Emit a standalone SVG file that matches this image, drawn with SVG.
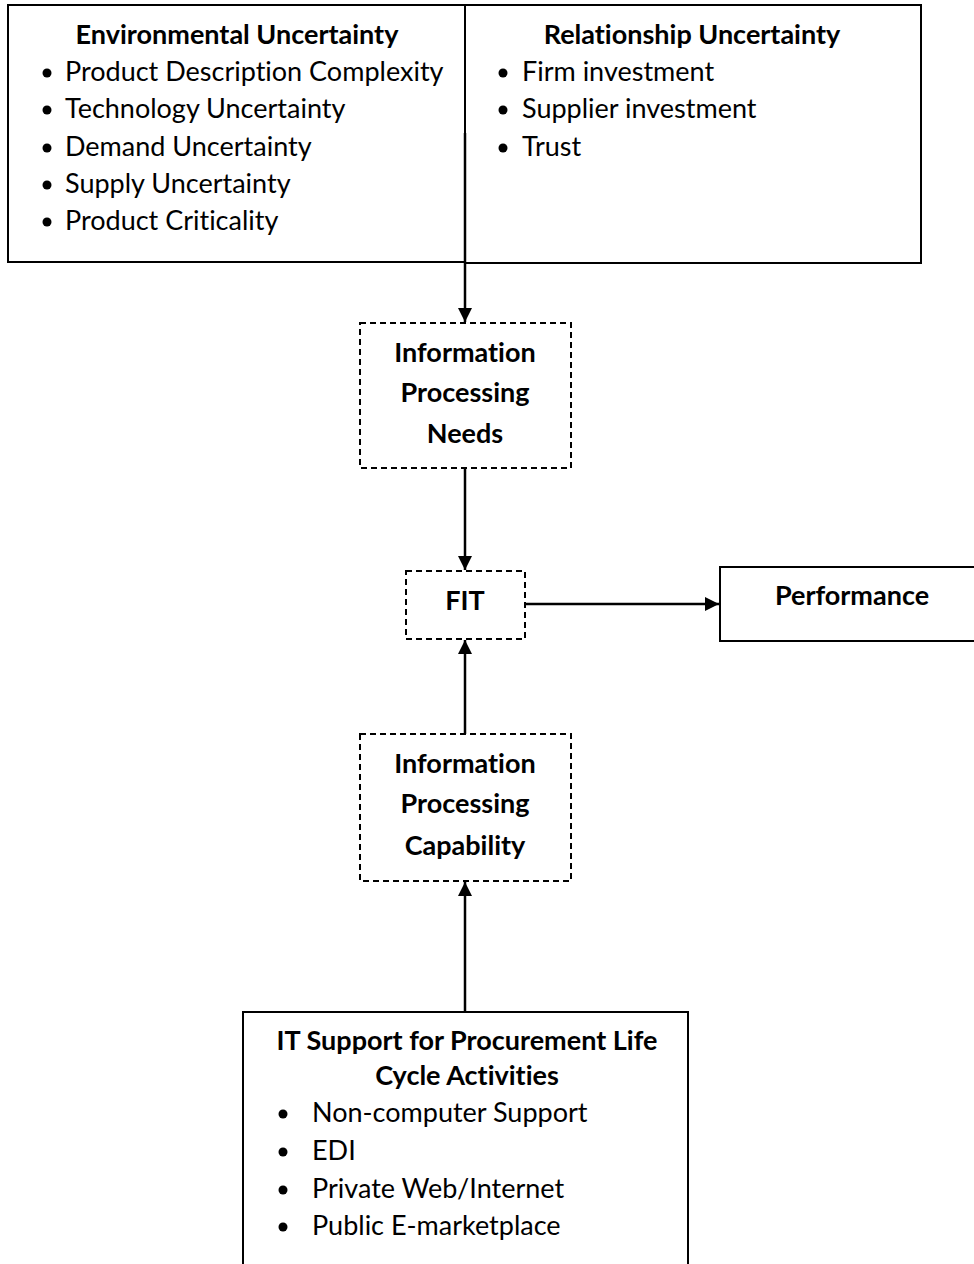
<svg xmlns="http://www.w3.org/2000/svg" width="974" height="1264" viewBox="0 0 974 1264">
  <style>
    .box { fill: #fff; stroke: #000; stroke-width: 2; }
    .dash { fill: #fff; stroke: #000; stroke-width: 2; stroke-dasharray: 6 4; }
    .conn { stroke: #000; stroke-width: 2.5; fill: none; }
    text { font-family: Lato, "Open Sans", "Liberation Sans", sans-serif; font-size: 27px; fill: #000; font-variant-ligatures: none; }
    .h { font-weight: bold; text-anchor: middle; }
    .b { fill: #000; }
  </style>
  <defs>
    <marker id="arrow" viewBox="0 0 14 14" refX="14" refY="7" markerWidth="14" markerHeight="14" markerUnits="userSpaceOnUse" orient="auto">
      <path d="M0,0 L14,7 L0,14 Z" fill="#000"/>
    </marker>
  </defs>

  <g id="environmental-uncertainty">
    <rect class="box" x="8" y="5" width="457" height="257"/>
    <text class="h" x="237" y="44">Environmental Uncertainty</text>
    <circle class="b" cx="47" cy="73" r="4.5"/>
    <text x="65" y="81">Product Description Complexity</text>
    <circle class="b" cx="47" cy="110" r="4.5"/>
    <text x="65" y="118">Technology Uncertainty</text>
    <circle class="b" cx="47" cy="148" r="4.5"/>
    <text x="65" y="156">Demand Uncertainty</text>
    <circle class="b" cx="47" cy="185" r="4.5"/>
    <text x="65" y="193">Supply Uncertainty</text>
    <circle class="b" cx="47" cy="222" r="4.5"/>
    <text x="65" y="230">Product Criticality</text>
  </g>

  <g id="relationship-uncertainty">
    <rect class="box" x="465" y="5" width="456" height="258"/>
    <text class="h" x="692" y="44">Relationship Uncertainty</text>
    <circle class="b" cx="503" cy="73" r="4.5"/>
    <text x="522" y="81">Firm investment</text>
    <circle class="b" cx="503" cy="110" r="4.5"/>
    <text x="522" y="118">Supplier investment</text>
    <circle class="b" cx="503" cy="148" r="4.5"/>
    <text x="522" y="156">Trust</text>
  </g>

  <g id="info-processing-needs">
    <rect class="dash" x="360" y="323" width="211" height="145"/>
    <text class="h" x="465" y="362">Information</text>
    <text class="h" x="465" y="402">Processing</text>
    <text class="h" x="465" y="443">Needs</text>
  </g>

  <g id="fit">
    <rect class="dash" x="406" y="571" width="119" height="68"/>
    <text class="h" x="465" y="610">FIT</text>
  </g>

  <g id="performance">
    <rect class="box" x="720" y="567" width="270" height="74"/>
    <text class="h" x="852" y="605">Performance</text>
  </g>

  <g id="info-processing-capability">
    <rect class="dash" x="360" y="734" width="211" height="147"/>
    <text class="h" x="465" y="773">Information</text>
    <text class="h" x="465" y="813">Processing</text>
    <text class="h" x="465" y="855">Capability</text>
  </g>

  <g id="it-support">
    <rect class="box" x="243" y="1012" width="445" height="270"/>
    <text class="h" x="467" y="1050">IT Support for Procurement Life</text>
    <text class="h" x="467" y="1085">Cycle Activities</text>
    <circle class="b" cx="283" cy="1114" r="4.5"/>
    <text x="312" y="1122">Non-computer Support</text>
    <circle class="b" cx="283" cy="1152" r="4.5"/>
    <text x="312" y="1160">EDI</text>
    <circle class="b" cx="283" cy="1190" r="4.5"/>
    <text x="312" y="1198">Private Web/Internet</text>
    <circle class="b" cx="283" cy="1227" r="4.5"/>
    <text x="312" y="1235">Public E-marketplace</text>
  </g>

  <g id="connectors">
    <line class="conn" x1="465" y1="133" x2="465" y2="322" marker-end="url(#arrow)"/>
    <line class="conn" x1="465" y1="468" x2="465" y2="570" marker-end="url(#arrow)"/>
    <line class="conn" x1="465" y1="734" x2="465" y2="640" marker-end="url(#arrow)"/>
    <line class="conn" x1="465" y1="1012" x2="465" y2="882" marker-end="url(#arrow)"/>
    <line class="conn" x1="525" y1="604" x2="719" y2="604" marker-end="url(#arrow)"/>
  </g>
</svg>
